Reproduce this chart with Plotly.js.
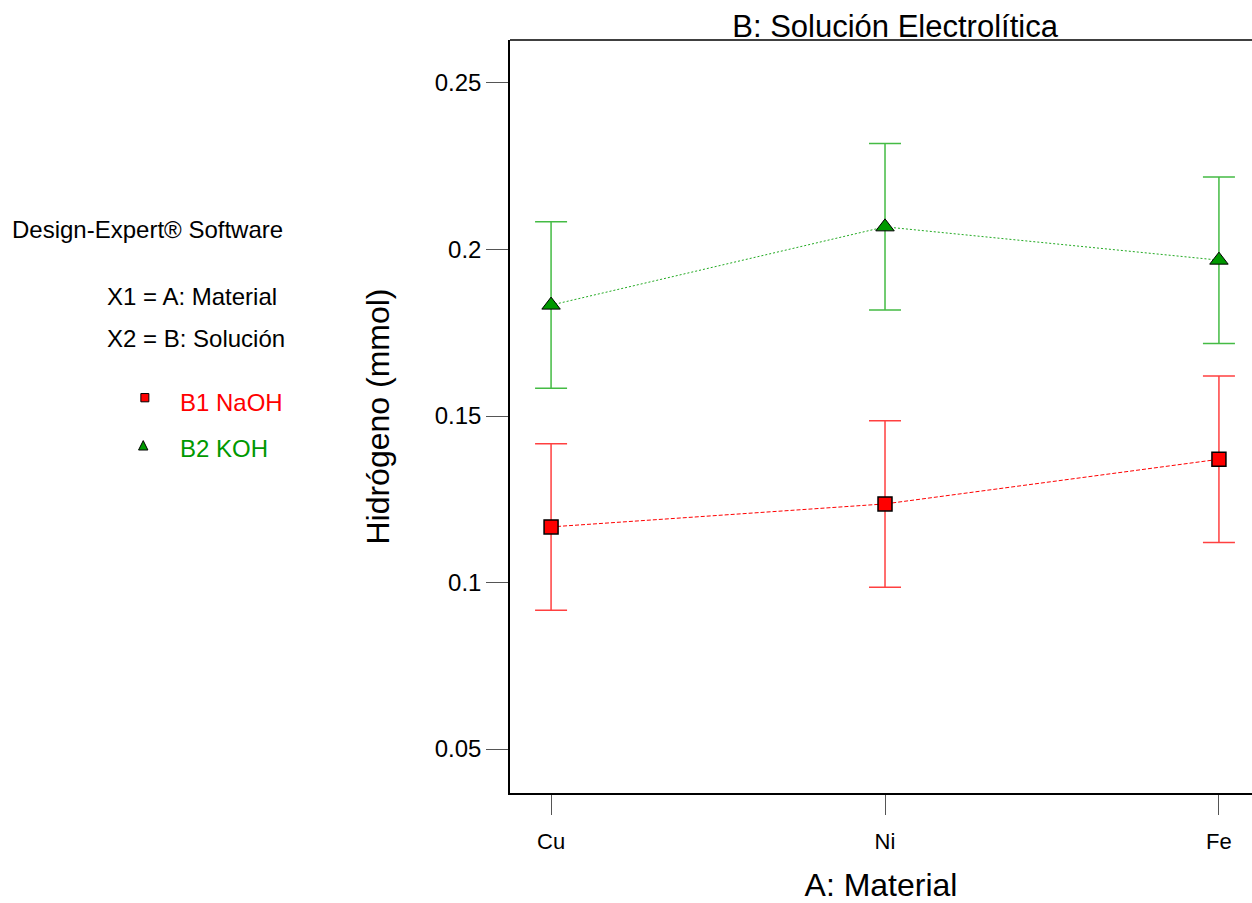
<!DOCTYPE html>
<html><head><meta charset="utf-8">
<script src="https://cdn.plot.ly/plotly-3.0.1.min.js"></script>
<style>html,body{margin:0;padding:0;overflow:hidden;background:#fff}</style>
</head><body><div id="chart" style="width:1252px;height:903px"></div>
<script>
const categories = ["Cu", "Ni", "Fe"];
const naohValues = [0.1167, 0.1236, 0.1370];
const kohValues = [0.1833, 0.2068, 0.1968];
const naohErr = [0.025, 0.025, 0.025];
const kohErr = [0.025, 0.025, 0.025];
const yTicks = [0.05, 0.1, 0.15, 0.2, 0.25];
const yTickLabels = ["0.05", "0.1", "0.15", "0.2", "0.25"];
const xIdx = categories.map((c, i) => i);

const traces = [
  {x: xIdx, y: naohValues, type: 'scatter', mode: 'lines+markers', name: 'B1 NaOH',
   line: {color: '#ff0000', width: 1, dash: '4px,2px'},
   marker: {symbol: 'square', size: 14, color: '#ff0000', line: {color: '#000', width: 1.5}},
   error_y: {type: 'data', array: naohErr, visible: true, color: '#ff4040', thickness: 1.5, width: 16}},
  {x: xIdx, y: kohValues, type: 'scatter', mode: 'lines+markers', name: 'B2 KOH',
   line: {color: '#22aa22', width: 1, dash: '2px,2px'},
   marker: {symbol: 'triangle-up', size: 16, color: '#009900', line: {color: '#000', width: 1}},
   error_y: {type: 'data', array: kohErr, visible: true, color: '#44bb44', thickness: 1.5, width: 16}}
];

const f = 'Liberation Sans, Arial, sans-serif';
const layout = {
  width: 1252, height: 903,
  margin: {l: 510, r: 0, t: 40, b: 110},
  paper_bgcolor: '#fff', plot_bgcolor: '#fff',
  showlegend: false,
  title: {text: 'B: Solución Electrolítica', font: {family: f, size: 31, color: '#000'},
          xref: 'paper', x: 0.519, xanchor: 'center', yref: 'container', y: 0.971, yanchor: 'middle'},
  xaxis: {range: [-0.123, 2.099], tickvals: xIdx, ticktext: categories,
          showgrid: false, zeroline: false, showline: true, linecolor: '#000', linewidth: 1.5,
          ticks: 'outside', ticklen: 20, tickcolor: '#555', tickwidth: 1, ticklabelstandoff: 8,
          tickfont: {family: f, size: 22, color: '#000'},
          title: {text: 'A: Material', font: {family: f, size: 32, color: '#000'}, standoff: 26}},
  yaxis: {range: [0.03679, 0.26291], tickvals: yTicks, ticktext: yTickLabels,
          showgrid: false, zeroline: false, showline: true, linecolor: '#000', linewidth: 1.5,
          ticks: 'outside', ticklen: 22, tickcolor: '#555', tickwidth: 1,
          tickfont: {family: f, size: 24, color: '#000'},
          title: {text: 'Hidrógeno (mmol)', font: {family: f, size: 32, color: '#000'}, standoff: 36}},
  shapes: [
    {type: 'line', xref: 'paper', yref: 'paper', x0: 0, x1: 1, y0: 1, y1: 1, line: {color: '#000', width: 1.5}},
    {type: 'rect', xref: 'paper', yref: 'paper', x0: -0.4975, x1: -0.4867, y0: 0.5195, y1: 0.5305,
     fillcolor: '#ff0000', line: {color: '#000', width: 1}},
    {type: 'path', xref: 'paper', yref: 'paper', path: 'M -0.5006 0.4555 L -0.4880 0.4555 L -0.4943 0.4680 Z',
     fillcolor: '#009900', line: {color: '#000', width: 1}}
  ],
  annotations: [
    {text: 'Design-Expert® Software', xref: 'paper', yref: 'paper', x: -0.674, y: 0.749, xanchor: 'left', yanchor: 'middle', showarrow: false, font: {family: f, size: 24, color: '#000'}},
    {text: 'X1 = A: Material', xref: 'paper', yref: 'paper', x: -0.546, y: 0.660, xanchor: 'left', yanchor: 'middle', showarrow: false, font: {family: f, size: 24, color: '#000'}},
    {text: 'X2 = B: Solución', xref: 'paper', yref: 'paper', x: -0.546, y: 0.604, xanchor: 'left', yanchor: 'middle', showarrow: false, font: {family: f, size: 24, color: '#000'}},
    {text: 'B1 NaOH', xref: 'paper', yref: 'paper', x: -0.447, y: 0.518, xanchor: 'left', yanchor: 'middle', showarrow: false, font: {family: f, size: 24, color: '#ff0000'}},
    {text: 'B2 KOH', xref: 'paper', yref: 'paper', x: -0.447, y: 0.457, xanchor: 'left', yanchor: 'middle', showarrow: false, font: {family: f, size: 24, color: '#009900'}}
  ]
};
Plotly.newPlot('chart', traces, layout, {displayModeBar: false});
</script></body></html>
